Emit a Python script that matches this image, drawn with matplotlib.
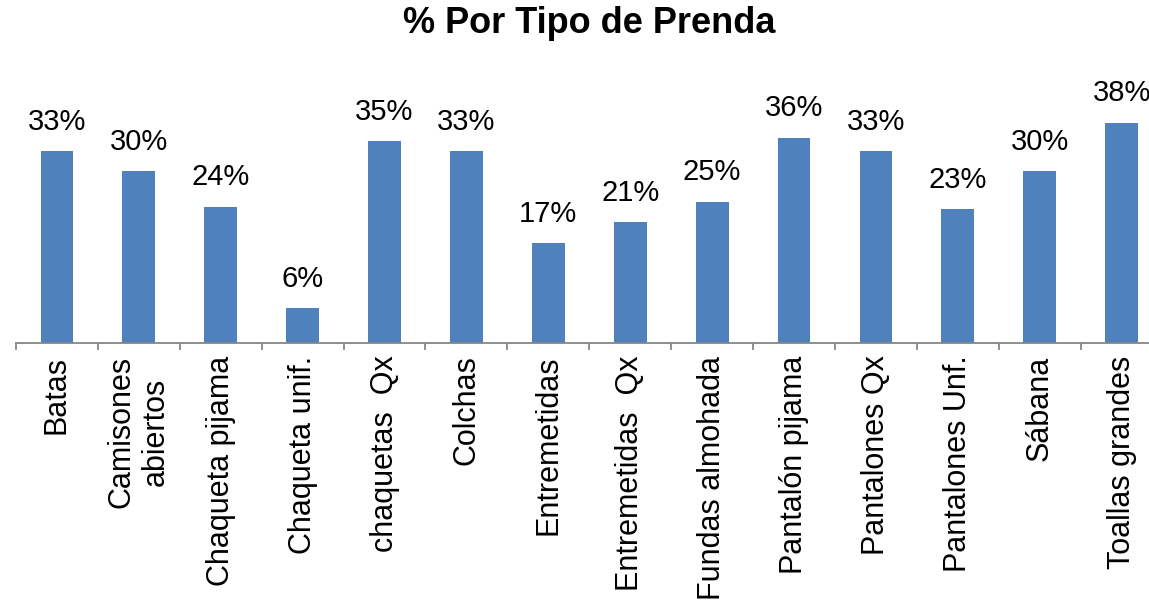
# % por tipo de prenda - bar chart

import numpy as np
import matplotlib
matplotlib.use('Agg')
import matplotlib.pyplot as plt

plt.rcParams['font.family'] = ['Liberation Sans', 'DejaVu Sans']

categorias = ['Batas', 'Camisones\nabiertos', 'Chaqueta pijama', 'Chaqueta unif.',
              'chaquetas  Qx', 'Colchas', 'Entremetidas', 'Entremetidas  Qx',
              'Fundas almohada', 'Pantalón pijama', 'Pantalones Qx',
              'Pantalones Unf.', 'Sábana', 'Toallas grandes']
porcentajes = [33.4, 29.9, 23.7, 6.1, 35.1, 33.4, 17.4, 21.0,
               24.6, 35.7, 33.4, 23.3, 29.9, 38.3]

fig = plt.figure(figsize=(11.49, 6.04), dpi=100)
ax = fig.add_axes([16 / 1149, 261 / 604, 1146.6 / 1149, 287.5 / 604])

x = np.arange(len(categorias))
bars = ax.bar(x, porcentajes, width=0.4, color='#4F81BD')

for b, v in zip(bars, porcentajes):
    ax.annotate(f'{v:.0f}%', (b.get_x() + b.get_width() / 2, v),
                xytext=(0, 11), textcoords='offset points',
                ha='center', va='bottom', fontsize=21, color='black')

ax.set_xlim(-0.5, len(categorias) - 0.5)
ax.set_ylim(0, 50)

ax.set_xticks(x)
ax.set_xticklabels(categorias, rotation=90, fontsize=22, va='top', ha='center',
                   multialignment='center')
ax.tick_params(axis='x', which='major', length=0, pad=9)
ax.set_xticks(np.arange(-0.5, len(categorias) + 0.5, 1), minor=True)
ax.tick_params(axis='x', which='minor', length=5, width=1.3, color='#868686')
ax.set_yticks([])

for s in ['left', 'top', 'right']:
    ax.spines[s].set_visible(False)
ax.spines['bottom'].set_color('#868686')
ax.spines['bottom'].set_linewidth(1.3)

fig.text(589 / 1149, 1 - 6 / 604, '% Por Tipo de Prenda', ha='center', va='top',
         fontsize=26, fontweight='bold')

plt.savefig('out.png', dpi=100)
